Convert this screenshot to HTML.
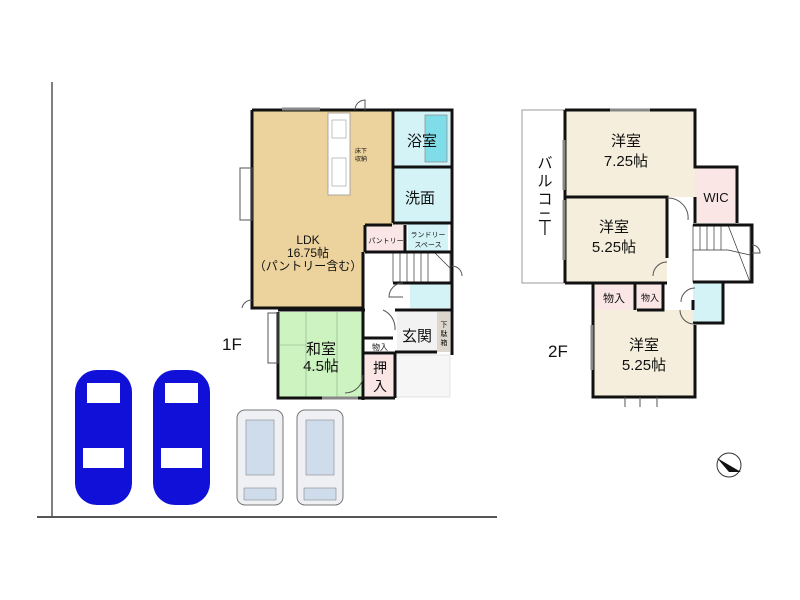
<!DOCTYPE html>
<html><head><meta charset="utf-8"><style>
html,body{margin:0;padding:0;background:#fff;width:800px;height:600px;overflow:hidden}
text{font-family:"Liberation Sans","Noto Sans CJK JP",sans-serif;fill:#111}
</style></head><body>
<svg width="800" height="600" viewBox="0 0 800 600" xmlns="http://www.w3.org/2000/svg">
<line x1="52" y1="82" x2="52" y2="518" stroke="#555" stroke-width="1.5"/>
<line x1="37" y1="517" x2="497" y2="517" stroke="#555" stroke-width="2"/>

<rect x="252" y="110" width="112" height="198" fill="#ecd29c"/>
<rect x="363" y="110" width="31" height="115" fill="#ecd29c"/>
<rect x="395" y="110" width="55" height="57" fill="#d3f3f7"/>
<rect x="425" y="115" width="22" height="47" fill="#7fdde9" stroke="#888" stroke-width="0.7"/>
<rect x="395" y="168" width="55" height="55" fill="#d3f3f7"/>
<rect x="408" y="223" width="40" height="29" fill="#d3f3f7"/>
<rect x="367" y="225" width="38" height="27" fill="#fbe6e6"/>
<rect x="410" y="283" width="40" height="25" fill="#d3f3f7"/>
<rect x="280" y="312" width="83" height="85" fill="#cdf4c0"/>
<line x1="306" y1="312" x2="306" y2="397" stroke="#8a8" stroke-width="0.6"/>
<line x1="337" y1="312" x2="337" y2="397" stroke="#8a8" stroke-width="0.6"/>
<line x1="280" y1="345" x2="306" y2="345" stroke="#8a8" stroke-width="0.6"/>
<line x1="306" y1="370" x2="337" y2="370" stroke="#8a8" stroke-width="0.6"/>
<rect x="397" y="312" width="40" height="40" fill="#f2f2f2"/>
<rect x="437" y="312" width="13" height="40" fill="#ddd6cc"/>
<rect x="365" y="340" width="28" height="12" fill="#fff"/>
<rect x="365" y="355" width="30" height="42" fill="#fbe6e6"/>
<rect x="395" y="355" width="55" height="42" fill="#f6f6f6" stroke="#ccc" stroke-width="0.5"/>
<rect x="328" y="113" width="22" height="82" fill="#fff" stroke="#999" stroke-width="0.8"/>
<rect x="332" y="120" width="14" height="18" fill="#fff" stroke="#999" stroke-width="0.6"/>
<rect x="332" y="158" width="14" height="28" fill="#fff" stroke="#999" stroke-width="0.6"/>
<g stroke="#333" stroke-width="0.7">
<rect x="393" y="253" width="57" height="29" fill="#fff"/>
<line x1="400" y1="253" x2="400" y2="282"/><line x1="407" y1="253" x2="407" y2="282"/><line x1="414" y1="253" x2="414" y2="282"/><line x1="421" y1="253" x2="421" y2="282"/><line x1="428" y1="253" x2="428" y2="282"/><line x1="435" y1="253" x2="450" y2="268"/>
</g>
<g fill="none" stroke="#111" stroke-width="3">
<polyline points="252,110 452,110 452,308 "/>
<polyline points="252,110 252,308 363,308"/>
<line x1="393" y1="110" x2="393" y2="223"/>
<line x1="393" y1="167" x2="452" y2="167"/>
<line x1="393" y1="223" x2="452" y2="223"/>
<line x1="405" y1="225" x2="405" y2="252"/>
<line x1="365" y1="225" x2="365" y2="252"/>
<line x1="365" y1="252" x2="452" y2="252"/>
<line x1="365" y1="225" x2="392" y2="225"/>
<line x1="363" y1="252" x2="363" y2="400"/>
<polyline points="278,312 278,398 395,398"/>
<line x1="278" y1="310" x2="365" y2="310"/>
<line x1="393" y1="283" x2="452" y2="283"/>
<line x1="452" y1="300" x2="452" y2="355"/>
<line x1="395" y1="310" x2="452" y2="310"/>
<line x1="395" y1="352" x2="395" y2="398"/>
<line x1="363" y1="353" x2="395" y2="353"/>
<line x1="363" y1="338" x2="393" y2="338"/>
<line x1="395" y1="352" x2="437" y2="352"/>
</g>
<g fill="none" stroke="#555" stroke-width="1">
<rect x="240" y="168" width="12" height="52"/>
<rect x="268" y="313" width="10" height="50"/>
<line x1="282" y1="109" x2="320" y2="109" stroke-width="3" stroke="#888"/>
<line x1="322" y1="398" x2="358" y2="398" stroke-width="3" stroke="#888"/>
<path d="M355,110 A10,10 0 0 1 365,100 L365,110"/>
<path d="M252,300 A10,10 0 0 0 242,308"/>
<path d="M452,266 a10,10 0 0 1 10,10"/>
<path d="M383,310 A20,20 0 0 1 395,330"/>
<path d="M363,375 A18,18 0 0 1 345,393"/>
<path d="M403,283 A14,14 0 0 0 389,297 L403,297"/>
</g>
<text x="308" y="244" font-size="12" text-anchor="middle">LDK</text>
<text x="308" y="257" font-size="12" text-anchor="middle">16.75帖</text>
<text x="308" y="270" font-size="12" text-anchor="middle">（パントリー含む）</text>
<text x="422" y="146" font-size="15" text-anchor="middle">浴室</text>
<text x="420" y="203" font-size="15" text-anchor="middle">洗面</text>
<text x="386" y="243" font-size="7" text-anchor="middle">パントリー</text>
<text x="428" y="237" font-size="7" text-anchor="middle">ランドリー</text>
<text x="428" y="247" font-size="7" text-anchor="middle">スペース</text>
<text x="361" y="153" font-size="6" text-anchor="middle">床下</text>
<text x="361" y="161" font-size="6" text-anchor="middle">収納</text>
<text x="321" y="354" font-size="15" text-anchor="middle">和室</text>
<text x="321" y="371" font-size="15" text-anchor="middle">4.5帖</text>
<text x="417" y="341" font-size="15" text-anchor="middle">玄関</text>
<text x="444" y="327" font-size="7" text-anchor="middle">下</text>
<text x="444" y="336" font-size="7" text-anchor="middle">駄</text>
<text x="444" y="345" font-size="7" text-anchor="middle">箱</text>
<text x="380" y="350" font-size="8" text-anchor="middle">物入</text>
<text x="380" y="373" font-size="14" text-anchor="middle">押</text>
<text x="380" y="391" font-size="14" text-anchor="middle">入</text>
<text x="222" y="350" font-size="17">1F</text>

<rect x="522" y="110" width="43" height="173" fill="#fff" stroke="#999" stroke-width="1"/>
<g fill="#f5eedc">
<rect x="565" y="110" width="130" height="87"/>
<rect x="565" y="197" width="102" height="85"/>
<rect x="593" y="310" width="102" height="87"/>
</g>
<rect x="695" y="167" width="42" height="56" fill="#fbe6e6"/>
<rect x="593" y="283" width="42" height="27" fill="#fbe6e6"/>
<rect x="637" y="283" width="26" height="27" fill="#fbe6e6"/>
<rect x="693" y="282" width="30" height="41" fill="#d3f3f7"/>
<g stroke="#333" stroke-width="0.7" fill="#fff">
<rect x="693" y="225" width="57" height="57"/>
<line x1="700" y1="225" x2="700" y2="250"/><line x1="707" y1="225" x2="707" y2="250"/><line x1="714" y1="225" x2="714" y2="250"/><line x1="721" y1="225" x2="721" y2="250"/>
<line x1="693" y1="250" x2="728" y2="250"/><line x1="728" y1="225" x2="750" y2="282"/><line x1="728" y1="250" x2="750" y2="255"/>
</g>
<g fill="none" stroke="#111" stroke-width="3">
<polyline points="565,110 695,110 695,167 737,167 737,223"/>
<line x1="565" y1="110" x2="565" y2="283"/>
<polyline points="565,197 667,197 667,258"/>
<line x1="565" y1="283" x2="667" y2="283"/>
<line x1="695" y1="197" x2="695" y2="223"/>
<polyline points="693,225 752,225 752,282 693,282"/>
<polyline points="593,283 593,397 695,397 695,325"/>
<line x1="635" y1="283" x2="635" y2="310"/>
<polyline points="637,283 663,283 663,310 637,310"/>
<polyline points="693,282 723,282 723,323 693,323"/>
<line x1="693" y1="300" x2="693" y2="310"/>
</g>
<g fill="none" stroke="#555" stroke-width="1">
<path d="M667,198 A20,20 0 0 1 688,220"/>
<path d="M667,262 A14,14 0 0 0 653,276"/>
<path d="M695,288 A14,14 0 0 0 681,302"/>
<path d="M680,310 A14,14 0 0 0 694,324"/>
<path d="M752,245 a8,8 0 0 1 8,8 l-8,0"/>
<path d="M625,397 v10 M657,397 v10 M640,397 v10"/>
<line x1="610" y1="110" x2="650" y2="110" stroke="#888" stroke-width="3"/>
<line x1="564" y1="140" x2="564" y2="190" stroke="#888" stroke-width="3"/>
<line x1="564" y1="200" x2="564" y2="260" stroke="#888" stroke-width="3"/>
<line x1="592" y1="325" x2="592" y2="370" stroke="#888" stroke-width="3"/>
</g>
<text x="626" y="146" font-size="15" text-anchor="middle">洋室</text>
<text x="626" y="166" font-size="15" text-anchor="middle">7.25帖</text>
<text x="614" y="232" font-size="15" text-anchor="middle">洋室</text>
<text x="614" y="252" font-size="15" text-anchor="middle">5.25帖</text>
<text x="644" y="350" font-size="15" text-anchor="middle">洋室</text>
<text x="644" y="370" font-size="15" text-anchor="middle">5.25帖</text>
<text x="716" y="202" font-size="13" text-anchor="middle">WIC</text>
<text x="614" y="302" font-size="11" text-anchor="middle">物入</text>
<text x="650" y="301" font-size="9" text-anchor="middle">物入</text>
<text x="545" y="168" font-size="15" text-anchor="middle">バ</text>
<text x="545" y="186" font-size="15" text-anchor="middle">ル</text>
<text x="545" y="204" font-size="15" text-anchor="middle">コ</text>
<text x="545" y="222" font-size="15" text-anchor="middle">ニ</text>
<text x="545" y="232" font-size="15" text-anchor="middle">|</text>
<text x="548" y="357" font-size="17">2F</text>

<circle cx="729" cy="465" r="12" fill="#fff" stroke="#333"/>
<path d="M717,458 L741,472 L729,472 Z" fill="#111"/>

<g>
<rect x="75" y="370" width="57" height="135" rx="22" fill="#1010d8"/>
<rect x="87" y="383" width="33" height="20" fill="#fff"/>
<rect x="83" y="448" width="41" height="20" fill="#fff"/>
<rect x="153" y="370" width="57" height="135" rx="22" fill="#1010d8"/>
<rect x="165" y="383" width="33" height="20" fill="#fff"/>
<rect x="161" y="448" width="41" height="20" fill="#fff"/>
<rect x="237" y="410" width="46" height="95" rx="8" fill="#eef0f4" stroke="#777"/>
<rect x="246" y="420" width="28" height="55" fill="#cfdcec" stroke="#888" stroke-width="0.6"/>
<rect x="244" y="488" width="32" height="12" fill="#cfdcec" stroke="#888" stroke-width="0.6"/>
<rect x="297" y="410" width="46" height="95" rx="8" fill="#eef0f4" stroke="#777"/>
<rect x="306" y="420" width="28" height="55" fill="#cfdcec" stroke="#888" stroke-width="0.6"/>
<rect x="304" y="488" width="32" height="12" fill="#cfdcec" stroke="#888" stroke-width="0.6"/>
</g>
</svg>
</body></html>
